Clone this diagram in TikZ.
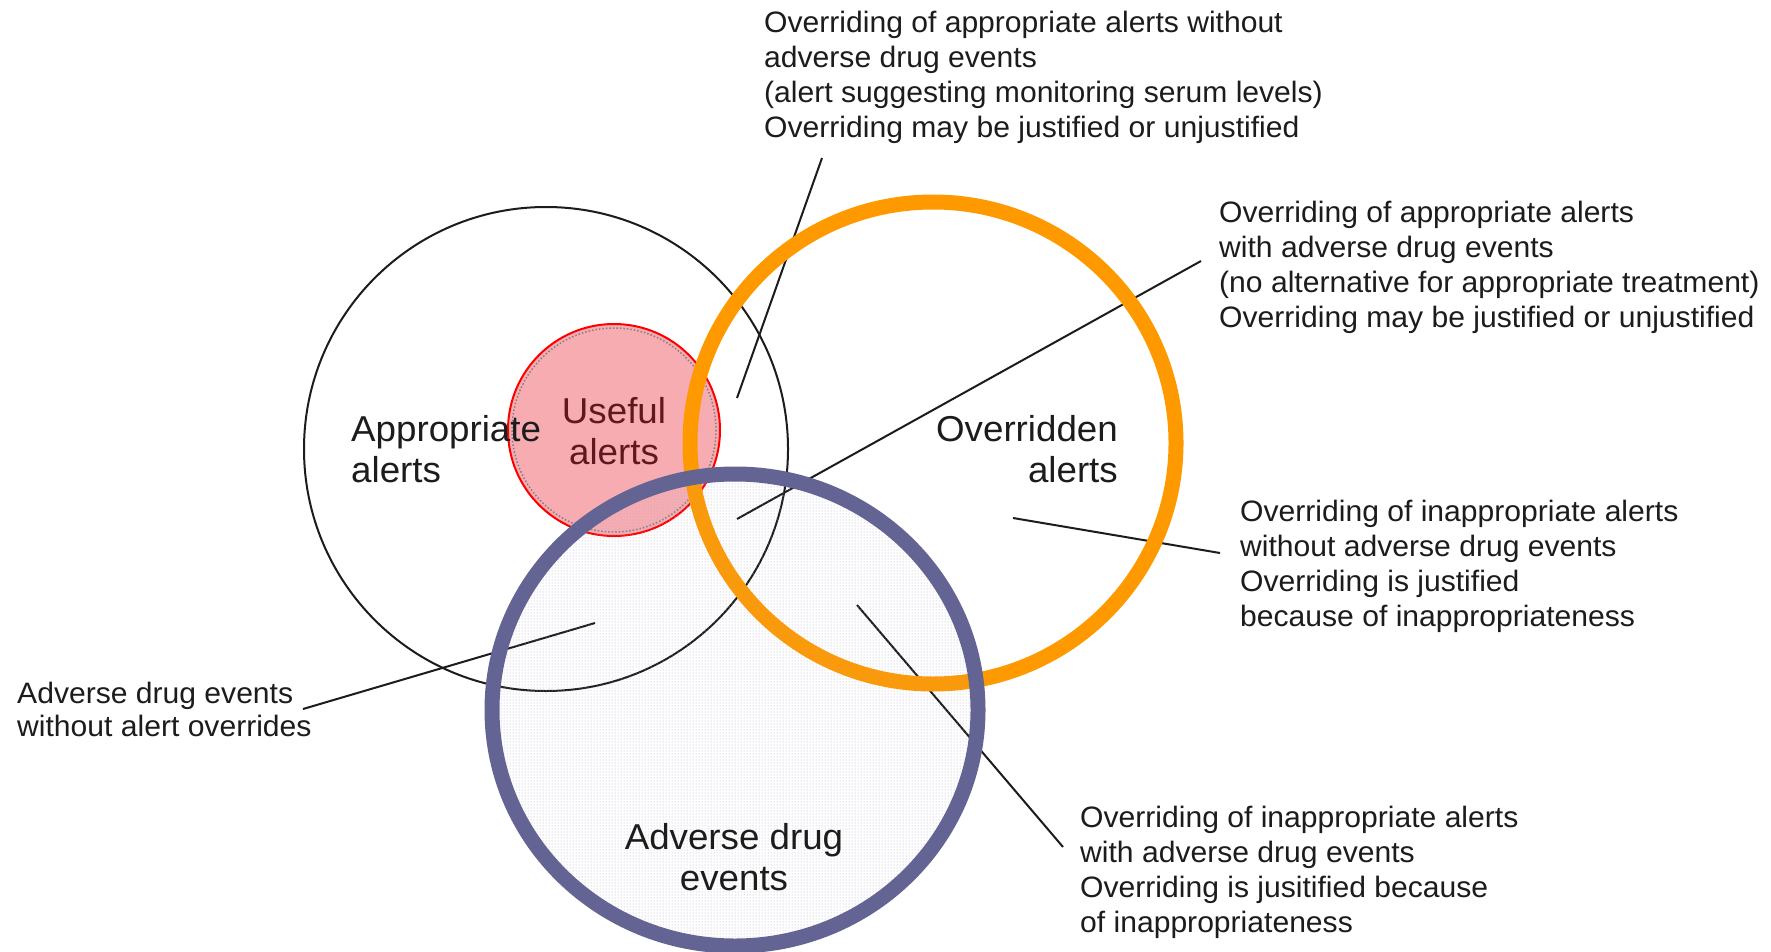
\documentclass[tikz,border=0pt]{standalone}
\usepackage{fontspec}
\setmainfont{Liberation Sans}[FakeStretch=1.02]
\usetikzlibrary{patterns}
\definecolor{ink}{RGB}{28,28,28}
\definecolor{ringorange}{RGB}{255,153,0}
\definecolor{ringblue}{RGB}{100,100,148}
\definecolor{usefulfill}{RGB}{247,172,178}
\definecolor{usefulink}{RGB}{95,25,30}
\begin{document}
\begin{tikzpicture}[x=1pt,y=-1pt,
  small/.style={font=\fontsize{29.5}{35}\selectfont, text=ink, inner sep=0pt, align=left, anchor=base west},
  big/.style={font=\fontsize{36}{41}\selectfont, text=ink, inner sep=0pt},
  leader/.style={draw=ink, line width=2pt},
  ringline/.style={line width=15pt}]
% canvas
\fill[white] (0,0) rectangle (1771,952);
\useasboundingbox (0,0) rectangle (1771,952);

% centres of the four sets
\coordinate (cApp) at (546,449);
\coordinate (cUse) at (614,430);
\coordinate (cOvr) at (933,443);
\coordinate (cAde) at (735,710);

% appropriate alerts
\draw[ink, line width=2pt] (cApp) circle [radius=242];

% useful alerts
\fill[usefulfill] (cUse) circle [radius=106];
\draw[gray, dotted, line width=1.5pt] (cUse) circle [radius=102];
\draw[red, line width=2pt] (cUse) circle [radius=106];

% leader end points inside the sets
\coordinate (p1) at (737,398);
\coordinate (p2) at (737,519);
\coordinate (p3) at (1013,518);
\coordinate (p4) at (857,605);
\coordinate (p5) at (595,623);
% leader end points beside the notes
\coordinate (q1) at (822,158);
\coordinate (q2) at (1201,261);
\coordinate (q3) at (1220,553);
\coordinate (q4) at (1063,847);
\coordinate (q5) at (303,709);

\draw[leader] (p1) -- (q1);
\draw[leader] (p2) -- (q2);
\draw[leader] (p3) -- (q3);
\draw[leader] (p4) -- (q4);
\draw[leader] (p5) -- (q5);

% overridden alerts
\draw[ringorange, ringline] (cOvr) ellipse [x radius=243, y radius=241];

% adverse drug events
\fill[pattern=dots, pattern color=ringblue!55] (cAde) ellipse [x radius=243, y radius=236];
\draw[ringblue, ringline] (cAde) ellipse [x radius=243, y radius=236];

% set labels (anchored at the baseline of their last line)
\node[big, align=left, anchor=base west] (lApp) at (351,482) {Appropriate\\alerts};
\node[big, align=center, anchor=base, text=usefulink] (lUse) at (614,464) {Useful\\alerts};
\node[big, align=right, anchor=base east] (lOvr) at (1118,482) {Overridden\\alerts};
\node[big, align=center, anchor=base] (lAde) at (734,890) {Adverse drug\\events};

% notes (anchored at the baseline of their last line)
\node[small] (n1) at (764,138) {Overriding of appropriate alerts without\\adverse drug events\\(alert suggesting monitoring serum levels)\\Overriding may be justified or unjustified};
\node[small] (n2) at (1219,327) {Overriding of appropriate alerts\\with adverse drug events\\(no alternative for appropriate treatment)\\Overriding may be justified or unjustified};
\node[small] (n3) at (1240,626) {Overriding of inappropriate alerts\\without adverse drug events\\Overriding is justified\\because of inappropriateness};
\node[small] (n4) at (1080,932) {Overriding of inappropriate alerts\\with adverse drug events\\Overriding is jusitified because\\of inappropriateness};
\node[small, font=\fontsize{29.5}{33}\selectfont] (n5) at (17,736) {Adverse drug events\\without alert overrides};
\end{tikzpicture}
\end{document}
